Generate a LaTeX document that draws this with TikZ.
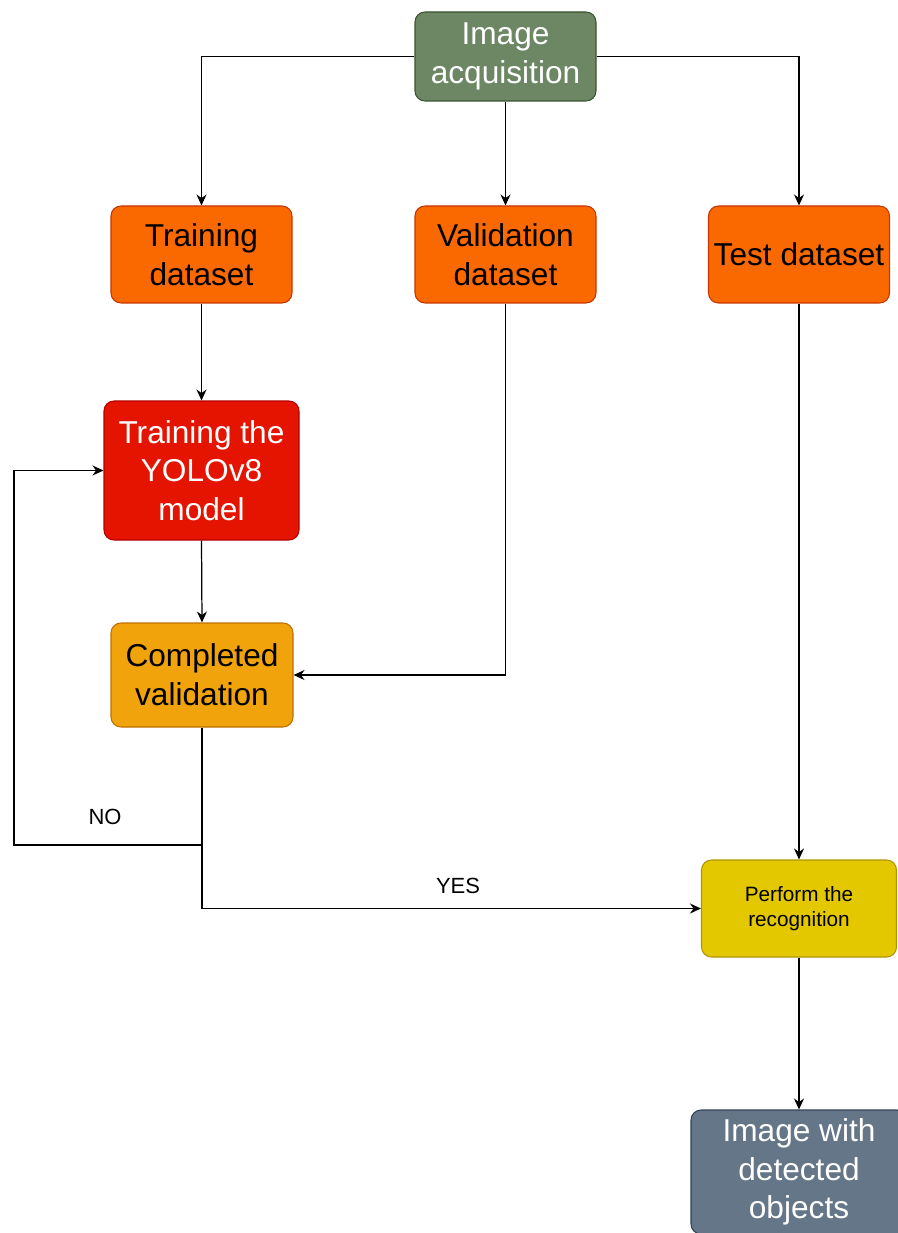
\documentclass[tikz,border=0pt]{standalone}
\usepackage{fontspec}
\setmainfont{Liberation Sans}
\usetikzlibrary{arrows.meta}
\definecolor{acqfill}{HTML}{6D8764}\definecolor{acqline}{HTML}{3A5431}
\definecolor{setfill}{HTML}{FA6800}\definecolor{setline}{HTML}{C73500}
\definecolor{trnfill}{HTML}{E51400}\definecolor{trnline}{HTML}{B20000}
\definecolor{valfill}{HTML}{F0A30A}\definecolor{valline}{HTML}{BD7000}
\definecolor{recfill}{HTML}{E3C800}\definecolor{recline}{HTML}{B09500}
\definecolor{resfill}{HTML}{647687}\definecolor{resline}{HTML}{314354}
\tikzset{>={Stealth[length=2.2mm,width=2mm]}}
\tikzset{
  box/.style={draw, rounded corners=0.2cm, align=center, line width=0.6pt,
    font=\fontsize{18}{22}\selectfont, inner sep=1pt},
  flow/.style={->, line width=0.7pt},
  answer/.style={font=\fontsize{12.5}{14}\selectfont}
}

\begin{document}
\begin{tikzpicture}
                \useasboundingbox (0,0) rectangle (17.94,-24.66);

                % Draw the boxes
                \node[box, fill=acqfill, draw=acqline, text=white, minimum width=3.62cm, minimum height=1.78cm] (acq) at (10.11,-1.13) {Image\\acquisition};
                \node[box, fill=setfill, draw=setline, minimum width=3.62cm, minimum height=1.94cm] (train) at (4.03,-5.09) {Training\\dataset};
                \node[box, fill=setfill, draw=setline, minimum width=3.62cm, minimum height=1.94cm] (valid) at (10.11,-5.09) {Validation\\dataset};
                \node[box, fill=setfill, draw=setline, minimum width=3.62cm, minimum height=1.94cm] (test) at (15.98,-5.09) {Test dataset};
                \node[box, fill=trnfill, draw=trnline, text=white, minimum width=3.9cm, minimum height=2.78cm] (yolo) at (4.03,-9.41) {Training the\\YOLOv8\\model};
                \node[box, fill=valfill, draw=valline, minimum width=3.64cm, minimum height=2.08cm] (compl) at (4.04,-13.5) {Completed\\validation};
                \node[box, fill=recfill, draw=recline, minimum width=3.9cm, minimum height=1.94cm, font=\fontsize{11.8}{14}\selectfont] (recog) at (15.98,-18.17) {Perform the\\recognition};
                \node[box, fill=resfill, draw=resline, text=white, minimum width=4.32cm, minimum height=2.48cm] (result) at (15.98,-23.44) {Image with\\detected\\objects};

                % Draw the split of the images
                \draw[flow] (acq.west) -| (train.north);
                \draw[flow] (acq.south) -- (valid.north);
                \draw[flow] (acq.east) -| (test.north);

                % Draw the training and validation arrows
                \draw[flow] (train.south) -- (yolo.north);
                \draw[flow] (yolo.south) -- (compl.north);
                \draw[flow] (valid.south) |- (compl.east);

                % Draw the NO and YES branches
                \coordinate (split) at (4.04,-16.9);
                \coordinate (back) at (0.28,-16.9);
                \draw[flow] (compl.south) -- (split) -- (back) |- (yolo.west);
                \draw[flow] (split) |- (recog.west);
                \node[answer] (no) at (2.1,-16.34) {NO};
                \node[answer] (yes) at (9.16,-17.72) {YES};

                % Draw the test arrows
                \draw[flow] (test.south) -- (recog.north);
                \draw[flow] (recog.south) -- (result.north);
             \end{tikzpicture}
\end{document}
